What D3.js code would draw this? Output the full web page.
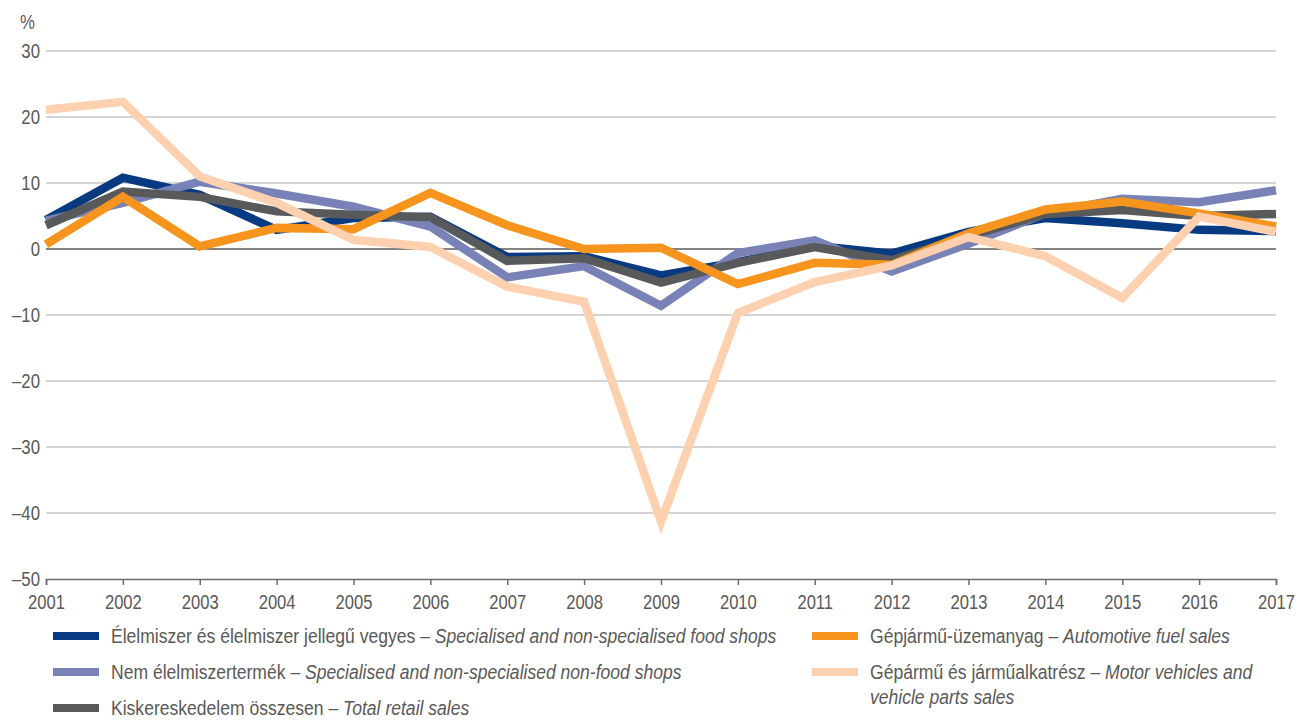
<!DOCTYPE html>
<html lang="hu">
<head>
    <meta charset="UTF-8">
    <title>Kiskereskedelem</title>
    <script src="https://cdn.jsdelivr.net/npm/d3@7"></script>
    <style>
        body { margin: 0; background: #fff; }
        svg text { font-family: "Liberation Sans", Arial, sans-serif; fill: #595959; }
    </style>
</head>
<body>
<script>

    // years on the x axis
    var years = d3.range(2001, 2018);

    // yearly change, %
    var foodShops  = [4.4, 10.8, 8.2, 2.9, 4.7, 4.9, -1.2, -1.1, -4.0, -2.0, 0.5, -0.7, 2.6, 4.7, 3.9, 2.9, 2.7];
    var nonFood    = [4.3, 7.0, 10.2, 8.4, 6.4, 3.4, -4.3, -2.6, -8.6, -0.6, 1.3, -3.4, 0.8, 5.4, 7.6, 7.1, 8.9];
    var totalSales = [3.6, 8.7, 7.9, 5.7, 5.2, 4.8, -1.8, -1.4, -5.1, -2.1, 0.3, -1.7, 2.0, 5.3, 5.9, 5.0, 5.3];
    var fuelSales  = [0.7, 7.9, 0.4, 3.2, 3.0, 8.5, 3.6, 0.0, 0.2, -5.3, -2.1, -2.4, 2.4, 6.0, 7.2, 5.4, 3.4];
    var motorParts = [21.1, 22.3, 11.0, 7.0, 1.4, 0.3, -5.7, -8.0, -41.3, -9.7, -5.0, -2.5, 1.8, -1.1, -7.4, 4.9, 2.6];

    var yTicks = [30, 20, 10, 0, -10, -20, -30, -40, -50];

    var series = [
        { values: foodShops,  color: "#073a80", hu: "Élelmiszer és élelmiszer jellegű vegyes – ", en: "Specialised and non-specialised food shops", col: 0, row: 0 },
        { values: nonFood,    color: "#7882b6", hu: "Nem élelmiszertermék – ", en: "Specialised and non-specialised non-food shops", col: 0, row: 1 },
        { values: totalSales, color: "#58595b", hu: "Kiskereskedelem összesen – ", en: "Total retail sales", col: 0, row: 2 },
        { values: fuelSales,  color: "#f7941d", hu: "Gépjármű-üzemanyag – ", en: "Automotive fuel sales", col: 1, row: 0 },
        { values: motorParts, color: "#fdd1b0", hu: "Gépármű és járműalkatrész – ", en: "Motor vehicles and", en2: "vehicle parts sales", col: 1, row: 1 }
    ];

    var width = 1299, height = 720;
    var plotLeft = 46, plotRight = 1276, plotTop = 51, plotBottom = 579;

    var svg = d3.select("body").append("svg")
        .attr("width", width)
        .attr("height", height);

    var x = d3.scaleLinear().domain([2001, 2017]).range([plotLeft, plotRight]);
    var y = d3.scaleLinear().domain([-50, 30]).range([plotBottom, plotTop]);

    // gridlines
    svg.append("g").selectAll("line")
        .data(yTicks.filter(function(d) { return d !== -50; }))
        .enter().append("line")
        .attr("x1", plotLeft).attr("x2", plotRight)
        .attr("y1", function(d) { return y(d); })
        .attr("y2", function(d) { return y(d); })
        .style("stroke", function(d) { return d === 0 ? "#5a5a5a" : "#c6c6c6"; })
        .style("stroke-width", 1.5);

    // y labels (narrow look via horizontal squeeze)
    svg.append("g").selectAll("text")
        .data(yTicks)
        .enter().append("text")
        .attr("transform", function(d) { return "translate(40," + y(d) + ") scale(0.8,1)"; })
        .attr("dy", "0.35em")
        .attr("text-anchor", "end")
        .style("font-size", "21px")
        .text(function(d) { return d < 0 ? "–" + Math.abs(d) : d; });

    svg.append("text")
        .attr("transform", "translate(20,29) scale(0.8,1)")
        .style("font-size", "21px")
        .text("%");

    // x axis
    var xAxis = d3.axisBottom(x)
        .tickValues(years)
        .tickFormat(d3.format("d"))
        .tickSize(6)
        .tickPadding(9);

    var gx = svg.append("g")
        .attr("transform", "translate(0," + plotBottom + ")")
        .call(xAxis);
    gx.select(".domain").attr("stroke", "#6b6b6b").attr("stroke-width", 1.5);
    gx.selectAll(".tick line").attr("stroke", "#6b6b6b").attr("stroke-width", 1.5);
    gx.selectAll(".tick text")
        .attr("transform", "scale(0.79,1)")
        .style("font-size", "21px")
        .attr("fill", "#595959");

    // lines
    var line = d3.line()
        .x(function(d, i) { return x(years[i]); })
        .y(function(d) { return y(d); });

    svg.append("g").selectAll("path")
        .data(series)
        .enter().append("path")
        .attr("d", function(d) { return line(d.values); })
        .attr("fill", "none")
        .attr("stroke", function(d) { return d.color; })
        .attr("stroke-width", 8.5)
        .attr("stroke-linejoin", "miter");

    // legend
    var legend = svg.append("g").selectAll("g")
        .data(series)
        .enter().append("g")
        .attr("transform", function(d) {
            return "translate(" + (d.col === 0 ? 53 : 812) + "," + (636 + d.row * 36) + ")";
        });

    legend.append("rect")
        .attr("x", 0).attr("y", -4)
        .attr("width", 46).attr("height", 8)
        .attr("fill", function(d) { return d.color; });

    var lt = legend.append("text")
        .attr("transform", "translate(58,0) scale(0.9,1)")
        .attr("dy", "0.35em")
        .style("font-size", "19.5px");
    lt.append("tspan").text(function(d) { return d.hu; });
    lt.append("tspan").style("font-style", "italic").text(function(d) { return d.en; });

    legend.filter(function(d) { return d.en2; })
        .append("text")
        .attr("transform", "translate(58,25) scale(0.9,1)")
        .attr("dy", "0.35em")
        .style("font-size", "19.5px")
        .style("font-style", "italic")
        .text(function(d) { return d.en2; });

</script>
</body>
</html>
